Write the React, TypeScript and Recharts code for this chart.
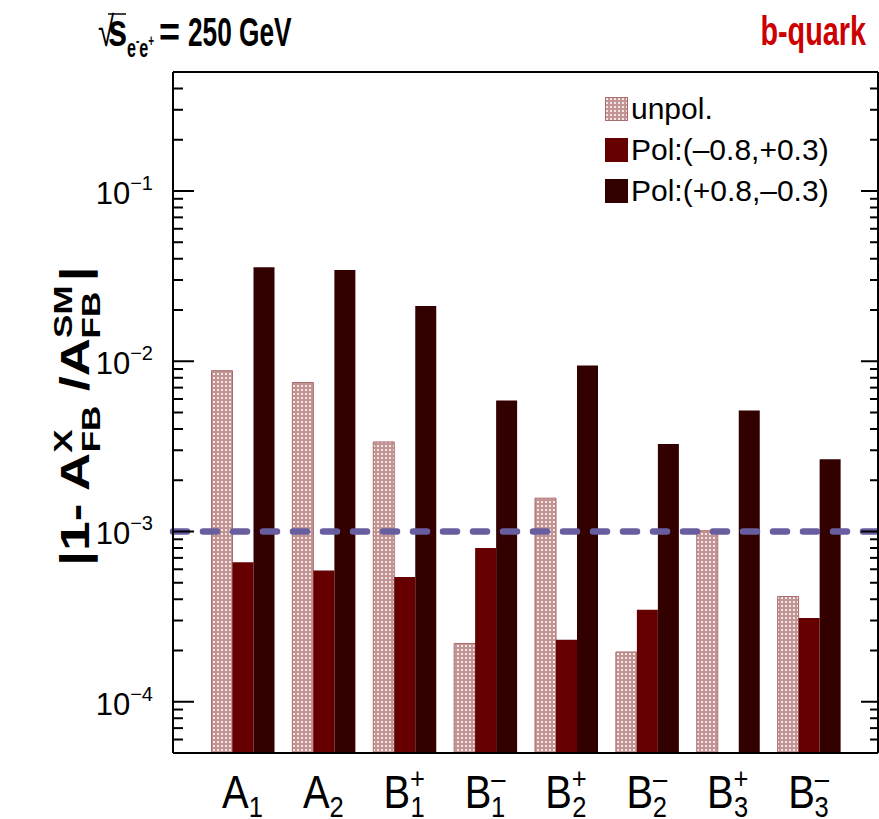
import React from 'react';
import { BarChart, Bar, XAxis, YAxis, ReferenceLine, Legend } from 'recharts';

const categories = ['A1', 'A2', 'B1+', 'B1-', 'B2+', 'B2-', 'B3+', 'B3-'];
const unpol = [8.8e-3, 7.5e-3, 3.36e-3, 2.2e-4, 1.57e-3, 1.96e-4, 1.01e-3, 4.15e-4];
const polMinus = [6.6e-4, 5.9e-4, 5.4e-4, 8.0e-4, 2.31e-4, 3.47e-4, null, 3.1e-4];
const polPlus = [0.0357, 0.0343, 0.0211, 5.88e-3, 9.44e-3, 3.27e-3, 5.14e-3, 2.66e-3];
const seriesNames = ['unpol.', 'Pol:(\u20130.8,+0.3)', 'Pol:(+0.8,\u20130.3)'];
const majorTicks = [1e-4, 1e-3, 1e-2, 1e-1];
const majorExp = ['\u22124', '\u22123', '\u22122', '\u22121'];
const minorTicks = [
  6e-5, 7e-5, 8e-5, 9e-5,
  2e-4, 3e-4, 4e-4, 5e-4, 6e-4, 7e-4, 8e-4, 9e-4,
  2e-3, 3e-3, 4e-3, 5e-3, 6e-3, 7e-3, 8e-3, 9e-3,
  2e-2, 3e-2, 4e-2, 5e-2, 6e-2, 7e-2, 8e-2, 9e-2,
  2e-1, 3e-1, 4e-1,
];
const threshold = 1e-3;

const data = categories.map((name, i) => ({
  name,
  unpol: unpol[i],
  polMinus: polMinus[i],
  polPlus: polPlus[i],
}));
const yTicks = [...majorTicks, ...minorTicks].sort((a, b) => a - b);

const sans = "'Liberation Sans', Arial, Helvetica, sans-serif";
const colors = ['url(#unpolPattern)', '#660000', '#330000'];

function LeftTick(props: any) {
  const { x, y, payload } = props;
  const i = majorTicks.indexOf(payload.value);
  const major = i >= 0;
  return (
    <g>
      <line x1={x} x2={x + (major ? 21 : 10)} y1={y} y2={y} stroke="#000" strokeWidth={2} />
      {major && (
        <text x={x - 20} y={y + 13} textAnchor="end" fontFamily={sans} fontSize={31} fill="#000">
          <tspan>10</tspan>
          <tspan dy={-14} fontSize={20}>{majorExp[i]}</tspan>
        </text>
      )}
    </g>
  );
}

function RightTick(props: any) {
  const { x, y, payload } = props;
  const major = majorTicks.indexOf(payload.value) >= 0;
  return <line x1={x} x2={x - (major ? 17 : 8)} y1={y} y2={y} stroke="#000" strokeWidth={2} />;
}

function XTick(props: any) {
  const { x, y, payload } = props;
  const label: string = payload.value;
  const base = label[0];
  const sub = label[1];
  const sup = label[2] === '+' ? '+' : label[2] === '-' ? '\u2013' : '';
  return (
    <g transform={`translate(${x}, ${y}) scale(0.85, 1)`}>
      <text x={0} y={55} textAnchor="middle" fontFamily={sans} fontSize={47} fill="#000">
        <tspan>{base}</tspan>
        {sup && (
          <tspan dy={-19} fontSize={30}>
            {sup}
          </tspan>
        )}
        <tspan dx={sup ? -17 : 0} dy={sup ? 28 : 9} fontSize={30}>
          {sub}
        </tspan>
      </text>
    </g>
  );
}

function LegendBox() {
  return (
    <div style={{ fontFamily: sans, fontSize: 30, color: '#000' }}>
      {seriesNames.map((n, i) => (
        <div key={n} style={{ display: 'flex', alignItems: 'center', height: 41 }}>
          <svg width={23} height={24} style={{ marginRight: 3 }}>
            <rect
              x={0.5}
              y={0.5}
              width={22}
              height={23}
              fill={colors[i]}
              stroke={i === 0 ? '#a86c6c' : colors[i]}
            />
          </svg>
          <span style={{ whiteSpace: 'nowrap' }}>{n}</span>
        </div>
      ))}
    </div>
  );
}

export default function App() {
  return (
    <div style={{ position: 'absolute', left: 0, top: 0, width: 879, height: 819, background: '#fff' }}>
      <BarChart
        width={879}
        height={819}
        data={data}
        margin={{ top: 71, right: 0, bottom: 6, left: 113 }}
        barCategoryGap={9.5}
        barGap={0}
      >
        <defs>
          <pattern id="unpolPattern" width="4" height="4" patternUnits="userSpaceOnUse">
            <rect width="4" height="4" fill="#c39494" />
            <rect x="1" y="1" width="2" height="2" fill="#f3e6e6" />
          </pattern>
        </defs>
        <XAxis
          dataKey="name"
          height={60}
          padding={{ left: 29, right: 29 }}
          tickSize={0}
          tickMargin={0}
          tickLine={false}
          interval={0}
          tick={XTick}
          axisLine={{ stroke: '#000', strokeWidth: 2 }}
        />
        <XAxis
          xAxisId="top"
          orientation="top"
          dataKey="name"
          height={1}
          tick={false}
          tickLine={false}
          axisLine={{ stroke: '#000', strokeWidth: 2 }}
        />
        <YAxis
          scale="log"
          domain={[5e-5, 0.5]}
          allowDataOverflow
          ticks={yTicks}
          interval={0}
          width={60}
          tickSize={0}
          tickMargin={0}
          tickLine={false}
          tick={LeftTick}
          axisLine={{ stroke: '#000', strokeWidth: 2 }}
        />
        <YAxis
          yAxisId="right"
          orientation="right"
          scale="log"
          domain={[5e-5, 0.5]}
          allowDataOverflow
          ticks={yTicks}
          interval={0}
          width={1}
          tickSize={0}
          tickMargin={0}
          tickLine={false}
          tick={RightTick}
          axisLine={{ stroke: '#000', strokeWidth: 2 }}
        />
        <Legend
          layout="vertical"
          align="center"
          verticalAlign="middle"
          content={() => <LegendBox />}
          wrapperStyle={{ top: 88, left: 605, width: 270 }}
        />
        <Bar dataKey="unpol" name={seriesNames[0]} fill="url(#unpolPattern)" stroke="#a86c6c" strokeWidth={1} isAnimationActive={false} />
        <Bar dataKey="polMinus" name={seriesNames[1]} fill="#660000" isAnimationActive={false} />
        <Bar dataKey="polPlus" name={seriesNames[2]} fill="#330000" isAnimationActive={false} />
        <ReferenceLine
          y={threshold}
          stroke="#685d9f"
          strokeWidth={6.5}
          strokeDasharray="14 16"
          strokeLinecap="round"
        />
      </BarChart>
      <svg width={879} height={819} style={{ position: 'absolute', left: 0, top: 0, pointerEvents: 'none' }}>
        <g fontFamily={sans} fill="#000">
          <g transform="translate(98, 46) scale(0.7, 1)">
            <text x={0} y={0} fontSize={42}>{'\u221A'}</text>
          </g>
          <line x1={108} x2={126} y1={14} y2={14} stroke="#000" strokeWidth={1.5} />
          <g transform="translate(108, 46) scale(0.75, 1)">
            <text x={0} y={0} fontSize={46} fontWeight="bold">s</text>
          </g>
          <g transform="translate(127, 57) scale(0.62, 1)">
            <text x={0} y={0} fontSize={26} fontWeight="bold">
              <tspan>e</tspan>
              <tspan dy={-11} fontSize={16}>-</tspan>
              <tspan dy={11} fontSize={26}>e</tspan>
              <tspan dy={-11} fontSize={16}>+</tspan>
            </text>
          </g>
          <g transform="translate(159, 46) scale(0.9, 1)">
            <text x={0} y={0} fontSize={40} fontWeight="bold">=</text>
          </g>
          <g transform="translate(188, 46) scale(0.64, 1)">
            <text x={0} y={0} fontSize={41} fontWeight="bold">250 GeV</text>
          </g>
          <g transform="translate(866, 45) scale(0.72, 1)">
            <text x={0} y={0} textAnchor="end" fontSize={40} fontWeight="bold" fill="#cc0000">
              b-quark
            </text>
          </g>
          <g transform="translate(89, 416) rotate(-90) scale(1, 0.76)">
            <text x={0} y={0} textAnchor="middle" fontSize={53} fontWeight="bold">
              <tspan>|1- A</tspan>
              <tspan dy={-22} fontSize={35}>X</tspan>
              <tspan dx={-23} dy={37} fontSize={35}>FB</tspan>
              <tspan dy={-15}> /A</tspan>
              <tspan dy={-22} fontSize={35}>SM</tspan>
              <tspan dx={-53} dy={37} fontSize={35}>FB</tspan>
              <tspan dy={-15}>{'\u2009|'}</tspan>
            </text>
          </g>
        </g>
      </svg>
    </div>
  );
}
